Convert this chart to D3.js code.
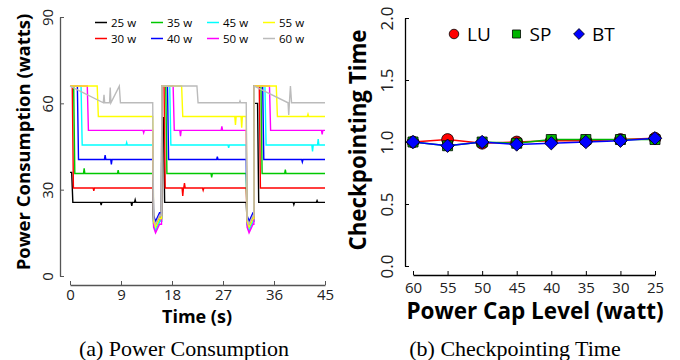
<!DOCTYPE html>
<html>
<head>
<meta charset="utf-8">
<script src="https://cdn.jsdelivr.net/npm/d3@7"></script>
<style>
  body { margin: 0; background: #fff; }
  svg { display: block; }
  text { font-family: "Open Sans", sans-serif; }
</style>
</head>
<body>
<div id="plotDiv"></div>
<script>
// ---- data ----
// (a) power traces, one per cap level
const capNames = ["25 w", "30 w", "35 w", "40 w", "45 w", "50 w", "55 w", "60 w"];
const capColors = ["#000000", "#ff0000", "#00c800", "#0000ff", "#00ffff", "#ff00ff", "#ffff00", "#bbbbbb"];
const steadyPower = [25.6, 30.6, 35.6, 40.5, 45.5, 50.6, 55.4, 60.2];
const peakPower = [[36, 55, 60], [66, 66, 66], [66, 66, 66], [66, 66, 66], [66, 66, 66], [66, 66, 66], [66, 66, 66], [66, 66, 66]];
// time (s) at which each trace falls from its peak to the cap, per run
const dropTimes = [
  [0.3, 16.5, 33.1], [0.4, 16.6, 33.4], [0.65, 16.9, 33.7], [1.3, 17.2, 34.0],
  [1.95, 17.6, 34.4], [3.05, 18.2, 35.2], [4.8, 19.7, 36.4], [8.7, 22.4, 38.9]
];
const dipLow = [17, 18, 16, 19, 16, 15, 17, 18];
const runStarts = [0, 16.2, 32.5];
const runEnds = [14.6, 31.1, 45];
// visible spikes on the steady parts: [trace, time, value]
const glitches = [
  [0, 5.5, 24.6], [0, 10.9, 24.4], [0, 11.5, 26.5], [0, 39.5, 24.8], [0, 43.6, 26.2],
  [1, 4.2, 29.6], [1, 19.9, 27.8], [1, 20.2, 32.3], [1, 23.5, 29.8],
  [2, 2.5, 37.4], [2, 8.5, 36.8], [2, 25.0, 34.3], [2, 38.0, 37.0],
  [3, 6.2, 42.0], [3, 7.3, 38.8], [3, 26.0, 41.5], [3, 41.0, 39.6],
  [4, 10.0, 46.4], [4, 28.0, 44.5], [4, 43.8, 47.6], [4, 42.8, 43.3],
  [5, 13.0, 49.8], [5, 19.5, 48.6], [5, 26.8, 52.0], [5, 44.5, 49.2],
  [6, 29.2, 52.5], [6, 30.3, 51.5], [6, 42.0, 56.2],
  [7, 6.0, 63.0], [7, 7.1, 65.5], [7, 38.6, 56.0], [7, 30.0, 60.8]
];
const timeTicks = [0, 9, 18, 27, 36, 45];
const powerTicks = [0, 30, 60, 90];

// (b) checkpointing time
const capLevels = ["60", "55", "50", "45", "40", "35", "30", "25"];
const luTime = [1.0, 1.02, 0.99, 1.0, 1.01, 1.01, 1.02, 1.03];
const spTime = [1.0, 0.97, 1.0, 0.99, 1.02, 1.02, 1.02, 1.02];
const btTime = [1.0, 0.97, 1.0, 0.98, 0.99, 1.0, 1.01, 1.03];
const ckptTicks = [0, 0.5, 1.0, 1.5, 2.0];

const svg = d3.select("#plotDiv").append("svg")
  .attr("width", 680).attr("height", 360);

// ================= (a) Power Consumption =================
const xA = d3.scaleLinear().domain([0, 45]).range([70, 325]);
const yA = d3.scaleLinear().domain([0, 90]).range([276, 17]);

// build each trace out of its runs, then drop in the spikes
function buildTrace(k) {
  const pts = [];
  for (let r = 0; r < 3; r++) {
    const s = runStarts[r], e = runEnds[r], d = dropTimes[k][r];
    if (r > 0) pts.push([s - 0.05, dipLow[k] + 3]);
    pts.push([s, peakPower[k][r]]);
    pts.push([d, peakPower[k][r]]);
    pts.push([d + 0.2, steadyPower[k]]);
    pts.push([e, steadyPower[k]]);
    if (r < 2) {
      pts.push([e + 0.15, dipLow[k] + 2]);
      pts.push([e + 0.5, dipLow[k]]);
      pts.push([e + 1.2, dipLow[k] + 3]);
    }
  }
  glitches.filter(g => g[0] === k).forEach(g => {
    pts.push([g[1] - 0.12, steadyPower[k]]);
    pts.push([g[1], g[2]]);
    pts.push([g[1] + 0.12, steadyPower[k]]);
  });
  return pts.sort((a, b) => a[0] - b[0]);
}

const lineA = d3.line().x(d => xA(d[0])).y(d => yA(d[1]));
const traces = svg.append("g");
capNames.forEach((n, k) => {
  traces.append("path")
    .attr("d", lineA(buildTrace(k)))
    .attr("fill", "none")
    .attr("stroke", capColors[k])
    .attr("stroke-width", 1.4);
});

// axes, ticks pointing inward
const xAxisA = svg.append("g").attr("transform", "translate(0,285)")
  .call(d3.axisBottom(xA).tickValues(timeTicks).tickSizeInner(-4).tickSizeOuter(0).tickPadding(4));
xAxisA.selectAll("text").style("font-size", "15px").attr("fill", "#222");

const yAxisA = svg.append("g").attr("transform", "translate(60,0)")
  .call(d3.axisLeft(yA).tickValues(powerTicks).tickSizeInner(-4).tickSizeOuter(0));
yAxisA.selectAll("text")
  .attr("transform", "rotate(-90)")
  .attr("x", 0).attr("y", -7).attr("dy", 0)
  .attr("text-anchor", "middle")
  .style("font-size", "15px").attr("fill", "#222");
[xAxisA, yAxisA].forEach(a => {
  a.select(".domain").attr("stroke", "#555").attr("stroke-width", 1.3);
  a.selectAll(".tick line").attr("stroke", "#555");
});

svg.append("text")
  .attr("transform", "translate(30,142) rotate(-90)")
  .attr("text-anchor", "middle")
  .style("font-size", "18.5px").style("font-weight", "bold")
  .text("Power Consumption (watts)");

svg.append("text")
  .attr("x", 197).attr("y", 323)
  .attr("text-anchor", "middle")
  .style("font-size", "18px").style("font-weight", "bold")
  .text("Time (s)");

// legend: 4 columns x 2 rows
const legA = svg.append("g");
capNames.forEach((n, k) => {
  const col = Math.floor(k / 2), row = k % 2;
  const lx = 95 + col * 56, ly = 22.5 + row * 16;
  legA.append("line")
    .attr("x1", lx).attr("x2", lx + 12).attr("y1", ly).attr("y2", ly)
    .attr("stroke", capColors[k]).attr("stroke-width", 1.5);
  legA.append("text")
    .attr("x", lx + 16).attr("y", ly + 4)
    .style("font-size", "11.5px")
    .text(n);
});

// ================= (b) Checkpointing Time =================
const xB = d3.scalePoint().domain(capLevels).range([413, 655]);
const yB = d3.scaleLinear().domain([0, 2]).range([266, 18]);

const xAxisB = svg.append("g").attr("transform", "translate(0,275)")
  .call(d3.axisBottom(xB).tickSizeInner(-4).tickSizeOuter(0).tickPadding(7));
xAxisB.selectAll("text").style("font-size", "15px").attr("fill", "#222");

const yAxisB = svg.append("g").attr("transform", "translate(405,0)")
  .call(d3.axisLeft(yB).tickValues(ckptTicks).tickFormat(d3.format(".1f")).tickSizeInner(-4).tickSizeOuter(0));
yAxisB.selectAll("text")
  .attr("transform", "rotate(-90)")
  .attr("x", 0).attr("y", -12).attr("dy", 0)
  .attr("text-anchor", "middle")
  .style("font-size", "17px").attr("fill", "#222");
[xAxisB, yAxisB].forEach(a => {
  a.select(".domain").attr("stroke", "#000").attr("stroke-width", 1.3);
});

svg.append("text")
  .attr("transform", "translate(366,140) rotate(-90)")
  .attr("text-anchor", "middle")
  .style("font-size", "22.3px").style("font-weight", "bold")
  .text("Checkpointing Time");

svg.append("text")
  .attr("x", 535).attr("y", 319)
  .attr("text-anchor", "middle")
  .style("font-size", "22.5px").style("font-weight", "bold")
  .text("Power Cap Level (watt)");

// diamond = square turned 45 degrees
const seriesB = [
  {name: "LU", vals: luTime, color: "#ff0000", shape: d3.symbolCircle, size: 110, rot: 0},
  {name: "SP", vals: spTime, color: "#00b400", shape: d3.symbolSquare, size: 100, rot: 0},
  {name: "BT", vals: btTime, color: "#0000ff", shape: d3.symbolSquare, size: 90, rot: 45}
];

const lineB = d3.line().x((d, i) => xB(capLevels[i])).y(d => yB(d));
seriesB.forEach(s => {
  svg.append("path")
    .attr("d", lineB(s.vals))
    .attr("fill", "none")
    .attr("stroke", s.color)
    .attr("stroke-width", 1.5);
});
seriesB.forEach(s => {
  svg.append("g").selectAll("path")
    .data(s.vals)
    .enter().append("path")
    .attr("transform", (d, i) => `translate(${xB(capLevels[i])},${yB(d)}) rotate(${s.rot})`)
    .attr("d", d3.symbol().type(s.shape).size(s.size))
    .attr("fill", s.color)
    .attr("stroke", "#000").attr("stroke-width", 0.8);
});

// legend
seriesB.forEach((s, i) => {
  const lx = 454 + i * 62.5;
  svg.append("path")
    .attr("transform", `translate(${lx},34) rotate(${s.rot})`)
    .attr("d", d3.symbol().type(s.shape).size(s.size * 0.65))
    .attr("fill", s.color)
    .attr("stroke", "#000").attr("stroke-width", 0.8);
  svg.append("text")
    .attr("x", lx + 13).attr("y", 41)
    .style("font-size", "19px")
    .text(s.name);
});

// ---- captions ----
svg.append("text")
  .attr("x", 184).attr("y", 356)
  .attr("text-anchor", "middle")
  .style("font-family", "'Liberation Serif', serif").style("font-size", "22px")
  .text("(a) Power Consumption");
svg.append("text")
  .attr("x", 515).attr("y", 356)
  .attr("text-anchor", "middle")
  .style("font-family", "'Liberation Serif', serif").style("font-size", "22px")
  .text("(b) Checkpointing Time");
</script>
</body>
</html>
